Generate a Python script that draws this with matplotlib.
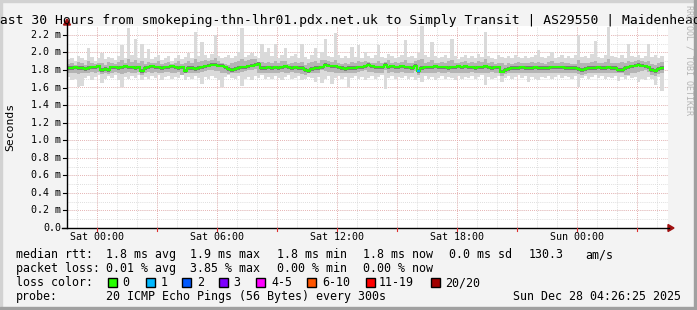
import numpy as np
import matplotlib.pyplot as plt
from matplotlib.patches import Rectangle, Polygon

# median rtt per 10 min sample, in 1/100 ms, starting Fri 22:30
med = [182,182,183,182,182,181,182,183,183,184,
       180,181,180,183,183,182,183,184,183,183,
       182,183,179,182,183,184,183,183,182,183,
       183,184,183,182,183,179,182,182,181,182,
       183,184,185,186,186,185,185,183,181,180,
       181,182,183,183,184,185,186,187,182,182,
       183,182,183,182,183,184,183,182,183,182,
       182,180,179,181,182,182,183,186,185,184,
       184,183,182,181,182,182,182,183,183,184,
       186,184,183,183,183,186,183,184,183,183,
       184,183,183,182,185,179,182,183,183,183,
       184,183,183,183,182,183,183,184,183,184,
       183,183,182,183,183,184,183,182,183,183,
       178,180,181,182,182,182,183,182,182,182,
       183,182,182,182,182,183,183,183,183,182,
       182,182,182,181,180,181,182,182,182,183,
       182,182,183,182,182,180,180,182,183,184,
       185,186,185,184,183,180,179,181,182]
# smoke: slowest / fastest ping of each sample
hi = [192,194,190,196,193,191,205,195,190,193,
      199,192,195,194,191,196,208,193,228,197,
      215,194,210,193,204,192,195,197,191,194,
      196,190,193,197,192,195,199,194,223,196,
      212,197,194,198,220,196,193,195,197,194,
      196,200,228,195,197,199,196,194,210,200,
      205,196,210,194,197,205,193,196,198,194,
      210,195,192,197,205,194,200,215,196,195,
      222,197,193,196,194,206,195,208,194,200,
      196,194,197,208,195,193,198,196,194,195,
      197,214,195,196,194,199,230,197,195,212,
      196,193,195,197,194,215,196,192,195,197,
      194,196,193,198,195,223,196,194,192,197,
      195,193,196,194,197,195,193,196,194,195,
      197,203,195,193,196,200,194,195,197,193,
      196,194,197,220,195,196,193,198,213,195,
      194,197,229,196,195,193,197,194,210,196,
      195,197,194,196,210,195,197,194,196]
lo = [172,168,170,160,162,171,173,169,172,174,
      165,170,173,171,174,169,160,172,170,173,
      171,174,168,172,170,173,171,174,169,172,
      173,170,172,171,174,168,172,170,173,171,
      164,172,170,173,171,169,160,172,174,171,
      170,173,162,170,172,169,173,171,174,170,
      172,170,173,171,169,172,174,170,171,173,
      168,170,172,171,166,172,165,170,173,164,
      171,173,170,172,160,171,173,170,172,169,
      171,173,170,172,174,158,171,173,170,172,
      171,173,170,172,169,171,166,173,170,172,
      169,171,173,170,172,171,168,173,170,172,
      171,173,170,172,174,163,172,170,171,173,
      166,171,173,170,172,174,171,173,166,172,
      170,168,172,171,173,170,172,174,171,173,
      172,170,173,160,171,173,170,172,174,171,
      173,170,172,171,173,167,172,170,173,171,
      172,166,170,168,172,170,163,172,156]
# smoke: inner pings
hi2 = [187,188,186,189,188,186,190,188,187,188,
       188,186,189,188,187,189,191,188,192,189,
       191,188,190,187,189,188,188,190,187,188,
       189,187,188,190,187,188,190,188,192,189,
       190,191,190,191,193,190,188,187,186,188,
       189,190,192,190,191,192,192,188,189,188,
       189,188,190,188,190,190,187,188,189,188,
       189,186,188,189,190,188,191,191,190,189,
       191,188,187,188,187,189,188,190,189,190,
       189,188,188,190,188,189,191,188,189,188,
       189,191,188,188,190,191,192,188,189,191,
       188,188,189,188,190,191,188,188,189,190,
       188,189,188,190,189,192,188,189,187,188,
       188,186,188,187,188,189,188,188,188,189,
       188,189,188,187,189,190,188,188,189,188,
       188,187,187,191,188,188,188,189,190,188,
       188,189,192,188,188,188,189,188,190,189,
       190,191,190,189,190,187,186,188,189]
lo2 = [177,176,177,175,176,177,177,178,177,178,
       175,176,175,177,178,177,175,177,178,177,
       177,178,174,177,178,177,178,177,177,178,
       178,177,177,178,174,176,176,176,177,177,
       178,179,180,180,179,179,177,176,175,176,
       177,177,178,179,180,180,181,177,177,177,
       177,177,177,177,178,177,177,178,177,177,
       175,174,176,177,177,177,180,179,178,178,
       177,176,176,177,176,177,177,178,179,180,
       178,178,177,177,177,180,177,178,177,177,
       178,177,177,177,179,174,176,177,177,177,
       177,178,177,177,178,177,177,177,177,177,
       177,178,177,177,177,177,177,178,177,177,
       173,175,176,176,176,177,176,176,176,177,
       176,176,176,176,177,177,177,177,177,176,
       176,176,176,175,174,175,176,176,176,177,
       176,176,177,176,176,177,176,174,174,176,
       177,178,179,180,178,174,173,175,176]
loss_index = [105]
loss_count = [1]

loss_labels = ["0", "1", "2", "3", "4-5", "6-10", "11-19", "20/20"]
loss_colors = ["#26ff00", "#00b8ff", "#0059ff", "#7e00ff",
               "#ff00ff", "#ff5500", "#ff0000", "#a10000"]
x_labels = ["Sat 00:00", "Sat 06:00", "Sat 12:00", "Sat 18:00", "Sun 00:00"]

W, H = 697, 310
MONO = "DejaVu Sans Mono"


def fx(x):
    return x / W


def fy(y):
    return 1 - y / H


fig = plt.figure(figsize=(W / 100, H / 100), dpi=100)
fig.patch.set_facecolor("#f3f3f3")

ax = fig.add_axes([fx(67), fy(228), 601 / W, 202 / H])
ax.set_xlim(-1.5, 28.55)
ax.set_ylim(0, 2.3)
for s in ax.spines.values():
    s.set_visible(False)
ax.set_xticks([])
ax.set_yticks([])

# grid
dot = (0, (1, 1.5))
for h in range(-1, 29):
    ax.axvline(h, color="#d4d4d4", lw=0.6, ls=dot, zorder=0)
for v in np.arange(0.1, 2.3, 0.1):
    ax.axhline(v, color="#d4d4d4", lw=0.6, ls=dot, zorder=0)
for h in range(0, 28, 3):
    ax.axvline(h, color="#eba8a8", lw=0.6, ls=dot, zorder=0.5)
for v in np.arange(0.2, 2.3, 0.2):
    ax.axhline(v, color="#eba8a8", lw=0.6, ls=dot, zorder=0.5)

# data
n = len(med)
edges = -1.5 + np.arange(n + 1) / 6
m = np.array(med) / 100
ax.stairs(np.array(hi) / 100, edges, baseline=np.array(lo) / 100,
          fill=True, color="#dadada", zorder=1)
ax.stairs(np.array(hi2) / 100, edges, baseline=np.array(lo2) / 100,
          fill=True, color="#b4b4b4", zorder=2)
ax.stairs(m + 0.02, edges, baseline=m - 0.02, fill=True,
          color="#7c7c7c", zorder=3)
ax.stairs(m, edges, baseline=None, color=loss_colors[0], lw=1.5, zorder=4)
for i, c in zip(loss_index, loss_count):
    ax.plot([edges[i], edges[i + 1]], [m[i], m[i]], color=loss_colors[c],
            lw=1.5, zorder=5, solid_capstyle="butt")

# axes lines and arrows
fig.add_artist(plt.Line2D([fx(67), fx(67)], [fy(228), fy(24)], color="black", lw=1))
fig.add_artist(plt.Line2D([fx(62), fx(669)], [fy(228), fy(228)], color="black", lw=1))
fig.add_artist(Polygon([[fx(63.5), fy(25)], [fx(70.5), fy(25)], [fx(67), fy(19)]],
                       closed=True, color="#a01010", transform=fig.transFigure))
fig.add_artist(Polygon([[fx(668), fy(224.5)], [fx(668), fy(231.5)], [fx(674), fy(228)]],
                       closed=True, color="#a01010", transform=fig.transFigure))

# y tick labels
for k in range(12):
    v = k * 0.2
    yy = 228 - v * 87.8
    lab = "0.0" if k == 0 else f"{v:.1f} m"
    fig.text(fx(61), fy(yy), lab, ha="right", va="center", family=MONO, fontsize=7.2)
    fig.add_artist(plt.Line2D([fx(63), fx(67)], [fy(yy), fy(yy)], color="black", lw=0.8))

# x tick labels
for j, lab in enumerate(x_labels):
    xx = 97 + j * 120
    fig.text(fx(xx), fy(236.5), lab, ha="center", va="center", family=MONO, fontsize=7.2)
for h in range(0, 28, 3):
    xx = 97 + h * 20
    fig.add_artist(plt.Line2D([fx(xx), fx(xx)], [fy(228), fy(231)], color="#e03030", lw=0.8))

fig.text(fx(-7.8), fy(24), "Last 30 Hours from smokeping-thn-lhr01.pdx.net.uk to "
         "Simply Transit | AS29550 | Maidenhead", ha="left", va="baseline",
         family=MONO, fontsize=9.4)
fig.text(fx(10), fy(127), "Seconds", rotation=90, ha="center", va="center",
         family=MONO, fontsize=8.2)
fig.text(fx(689), fy(60), "RRDTOOL / TOBI OETIKER", rotation=270, ha="center",
         va="center", family=MONO, fontsize=6, color="#b4b4b4")

# legend
rows = [
    (258, [(16, "median rtt:"), (106, "1.8 ms avg"), (190, "1.9 ms max"),
           (277, "1.8 ms min"), (363, "1.8 ms now"), (449, "0.0 ms sd"),
           (529, "130.3"), (585, "am/s")]),
    (272, [(16, "packet loss:"), (106, "0.01 % avg"), (190, "3.85 % max"),
           (277, "0.00 % min"), (363, "0.00 % now")]),
    (286, [(16, "loss color:")]),
    (300, [(16, "probe:"), (106, "20 ICMP Echo Pings (56 Bytes) every 300s")]),
]
for yb, chunks in rows:
    for xx, s in chunks:
        fig.text(fx(xx), fy(yb), s, ha="left", va="baseline", family=MONO, fontsize=8.4)
fig.text(fx(681), fy(300), "Sun Dec 28 04:26:25 2025", ha="right", va="baseline",
         family=MONO, fontsize=8.4)

box_x = [108, 146, 182, 219, 256, 307, 366, 431]
lab_x = [122, 161, 197, 233, 271, 322, 379, 445]
for bx, lx, c, lab in zip(box_x, lab_x, loss_colors, loss_labels):
    fig.add_artist(Rectangle((fx(bx), fy(287)), 9 / W, 9 / H, facecolor=c,
                             edgecolor="black", lw=1, transform=fig.transFigure))
    fig.text(fx(lx), fy(286), lab, ha="left", va="baseline", family=MONO, fontsize=8.4)

# frame
fig.add_artist(Rectangle((0, fy(2)), 1, 2 / H, color="#d2d2d2", transform=fig.transFigure))
fig.add_artist(Rectangle((0, 0), 2 / W, 1, color="#d2d2d2", transform=fig.transFigure))
fig.add_artist(Rectangle((fx(694), 0), 3 / W, 1, color="#a0a0a0", transform=fig.transFigure))
fig.add_artist(Rectangle((0, 0), 1, 3 / H, color="#a0a0a0", transform=fig.transFigure))

fig.savefig("out.png", dpi=100, facecolor=fig.get_facecolor())
